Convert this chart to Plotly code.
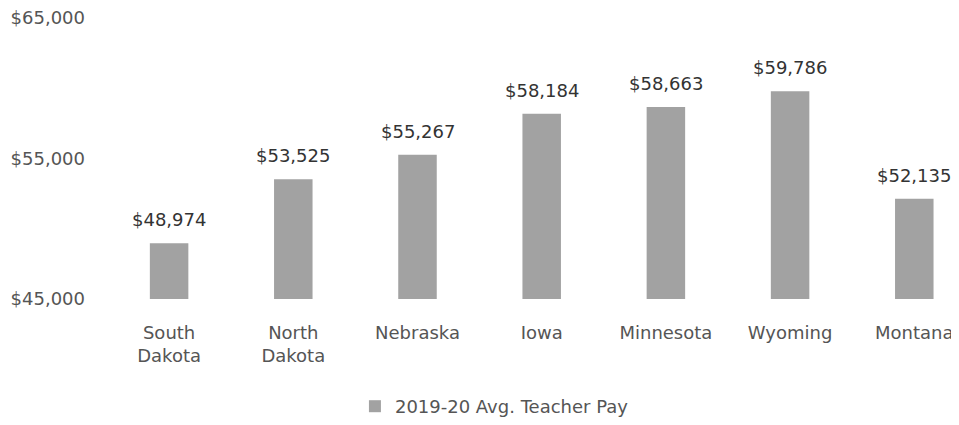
import plotly.graph_objects as go

states = ["South<br>Dakota", "North<br>Dakota", "Nebraska", "Iowa", "Minnesota", "Wyoming", "Montana"]
pay = [48974, 53525, 55267, 58184, 58663, 59786, 52135]
series_name = "2019-20 Avg. Teacher Pay"
y_ticks = [45000, 55000, 65000]

FONT = "DejaVu Sans, Open Sans, sans-serif"

fig = go.Figure()
fig.add_trace(go.Bar(
    x=states, y=pay, name=series_name,
    marker=dict(color="#a2a2a2", line=dict(width=0)),
    showlegend=True,
))
for s, v in zip(states, pay):
    fig.add_annotation(x=s, y=v, text=f"${v:,}", showarrow=False,
                       yanchor="bottom", yshift=11,
                       font=dict(family=FONT, size=18, color="#333333"))

fig.update_layout(
    width=951, height=417,
    margin=dict(l=99, r=0, t=10, b=120),
    paper_bgcolor="white", plot_bgcolor="white",
    bargap=0.69,
    font=dict(family=FONT, size=18, color="#555555"),
    xaxis=dict(range=[-0.5, 6.36], showgrid=False, showline=False, ticks="",
               automargin=False, ticklabelstandoff=21, ticklabeloverflow="allow",
               tickfont=dict(family=FONT, size=18, color="#555555")),
    yaxis=dict(range=[45000, 65000], tickvals=y_ticks, tickformat="$,.0f",
               showgrid=False, zeroline=False, showline=False, ticks="",
               automargin=False, ticklabelstandoff=21, ticklabeloverflow="allow",
               tickfont=dict(family=FONT, size=18, color="#555555")),
    legend=dict(orientation="h", x=0.291, xanchor="left", y=-0.383, yanchor="middle",
                font=dict(family=FONT, size=18, color="#555555"), itemwidth=30),
)

fig.write_html("out.html")
